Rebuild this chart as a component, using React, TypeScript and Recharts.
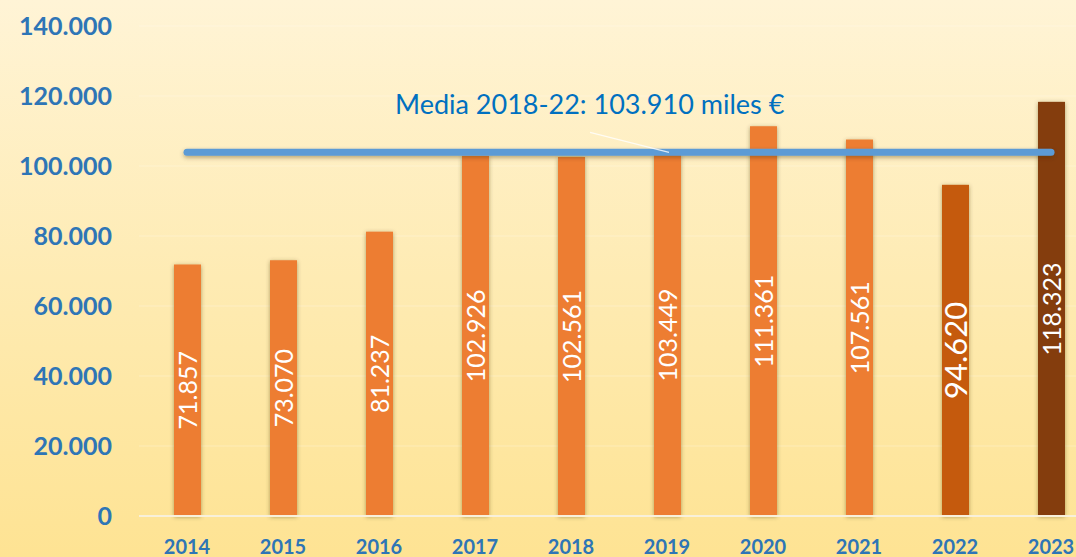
import React from "react"
import {
  Bar,
  BarChart,
  CartesianGrid,
  Cell,
  LabelList,
  ReferenceLine,
  XAxis,
  YAxis,
} from "recharts"

// anni e valori (migliaia di euro)
const years = ["2014", "2015", "2016", "2017", "2018", "2019", "2020", "2021", "2022", "2023"]
const values = [71857, 73070, 81237, 102926, 102561, 103449, 111361, 107561, 94620, 118323]
const yTicks = [0, 20000, 40000, 60000, 80000, 100000, 120000, 140000]
const mediaValue = 103910
const mediaLabel = "Media 2018-22: 103.910 miles €"

const barColors = [
  "#ED7D31", "#ED7D31", "#ED7D31", "#ED7D31", "#ED7D31",
  "#ED7D31", "#ED7D31", "#ED7D31", "#C55A11", "#843C0C",
]

const data = years.map((year, i) => ({ year, value: values[i] }))

const fmt = (v: number) => String(v).replace(/\B(?=(\d{3})+(?!\d))/g, ".")

const BLUE = "#2E75B6"

const ValueLabel = (props: any) => {
  const { x, y, width, height, value, index } = props
  const cx = Number(x) + Number(width) / 2
  const cy = Number(y) + Number(height) / 2
  const big = index === 8
  return (
    <text
      x={cx}
      y={cy}
      transform={`rotate(-90 ${cx} ${cy})`}
      textAnchor="middle"
      dominantBaseline="central"
      fill="#ffffff"
      fontFamily="Lato, sans-serif"
      fontSize={big ? 31 : 25}
    >
      {fmt(value)}
    </text>
  )
}

const MediaLabel = (props: any) => {
  const vb = props.viewBox || {}
  const x0 = Number(vb.x)
  const y0 = Number(vb.y)
  return (
    <g>
      <line
        x1={x0 + 403}
        y1={y0 - 20}
        x2={x0 + 482}
        y2={y0}
        stroke="#ffffff"
        strokeOpacity={0.8}
        strokeWidth={1.2}
      />
      <text
        x={x0 + 208}
        y={y0 - 38}
        fill="#0070C0"
        fontFamily="Lato, sans-serif"
        fontSize={27}
      >
        {mediaLabel}
      </text>
    </g>
  )
}

const ShadowBar = (props: any) => {
  const { x, y, width, height, fill } = props
  return <rect x={x} y={y} width={width} height={height} fill={fill} filter="url(#barShadow)" />
}

export default function App() {
  return (
    <div
      style={{
        position: "fixed",
        left: 0,
        top: 0,
        width: 1076,
        height: 557,
        overflow: "hidden",
        background: "linear-gradient(180deg, #FFF4D6 0%, #FEEBB3 50%, #FEE393 100%)",
      }}
    >
      <svg width={0} height={0} style={{ position: "absolute" }}>
        <defs>
          <filter id="barShadow" x="-50%" y="-10%" width="200%" height="120%">
            <feDropShadow dx={0} dy={1} stdDeviation={2} floodColor="#4a3a10" floodOpacity={0.45} />
          </filter>
          <filter id="lineShadow" filterUnits="userSpaceOnUse" x={0} y={0} width={1100} height={557}>
            <feDropShadow dx={0} dy={2} stdDeviation={2} floodColor="#4a3a10" floodOpacity={0.4} />
          </filter>
        </defs>
      </svg>
      <BarChart
        width={1100}
        height={557}
        data={data}
        margin={{ top: 26, right: 1, bottom: 0, left: 0 }}
      >
        <CartesianGrid vertical={false} stroke="#ffffff" strokeOpacity={0.25} />
        <XAxis
          dataKey="year"
          height={41}
          tickLine={false}
          tickSize={0}
          tickMargin={24}
          axisLine={{ stroke: "#F8F0DA", strokeWidth: 2 }}
          tick={{ fill: BLUE, fontFamily: "Lato, sans-serif", fontWeight: 700, fontSize: 20 }}
          interval={0}
        />
        <YAxis
          width={139}
          domain={[0, 140000]}
          ticks={yTicks}
          tickFormatter={fmt}
          tickLine={false}
          tickSize={0}
          tickMargin={27}
          axisLine={false}
          tick={{ fill: BLUE, fontFamily: "Lato, sans-serif", fontWeight: 700, fontSize: 25 }}
        />
        <Bar dataKey="value" barSize={27} isAnimationActive={false} shape={ShadowBar}>
          {data.map((d, i) => (
            <Cell key={d.year} fill={barColors[i]} />
          ))}
          <LabelList dataKey="value" content={ValueLabel} />
        </Bar>
        <ReferenceLine
          segment={[
            { x: years[0], y: mediaValue },
            { x: years[years.length - 1], y: mediaValue },
          ]}
          stroke="#5B9BD5"
          strokeWidth={7}
          strokeLinecap="round"
          filter="url(#lineShadow)"
          label={<MediaLabel />}
        />
      </BarChart>
    </div>
  )
}
